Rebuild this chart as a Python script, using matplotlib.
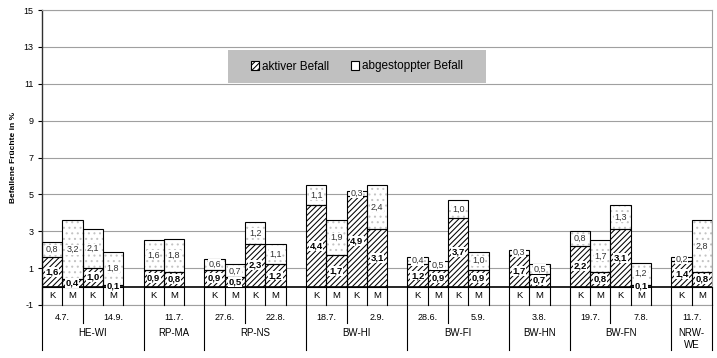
import matplotlib
matplotlib.use("Agg")
import matplotlib.pyplot as plt
from matplotlib.patches import Rectangle, Patch
import matplotlib.transforms as mtransforms

plt.rcParams['font.family'] = ['Liberation Sans', 'DejaVu Sans']
plt.rcParams['hatch.linewidth'] = 0.75

# ---- data ----
locations = ["HE-WI", "RP-MA", "RP-NS", "BW-HI", "BW-FI", "BW-HN", "BW-FN", "NRW-\nWE"]
dates = [["4.7.", "14.9."], ["11.7."], ["27.6.", "22.8."], ["18.7.", "2.9."],
         ["28.6.", "5.9."], ["3.8."], ["19.7.", "7.8."], ["11.7."]]
varieties = ["K", "M"]
aktiv = [1.6, 0.4, 1.0, 0.1, 0.9, 0.8, 0.9, 0.5, 2.3, 1.2, 4.4, 1.7, 4.9, 3.1,
         1.2, 0.9, 3.7, 0.9, 1.7, 0.7, 2.2, 0.8, 3.1, 0.1, 1.4, 0.8]
gestoppt = [0.8, 3.2, 2.1, 1.8, 1.6, 1.8, 0.6, 0.7, 1.2, 1.1, 1.1, 1.9, 0.3, 2.4,
            0.4, 0.5, 1.0, 1.0, 0.3, 0.5, 0.8, 1.7, 1.3, 1.2, 0.2, 2.8]
yticks = [-1, 1, 3, 5, 7, 9, 11, 13, 15]
legend_labels = ["aktiver Befall", "abgestoppter Befall"]
ylabel = "Befallene Früchte in %"

# ---- layout ----
W, H = 717, 358
fig = plt.figure(figsize=(W / 100, H / 100), dpi=100)
ax_l, ax_r, ax_t, ax_b = 42, 712, 10, 305
ax = fig.add_axes([ax_l / W, 1 - ax_b / H, (ax_r - ax_l) / W, (ax_b - ax_t) / H])

# slot positions
bar_x, bar_lab = [], []
date_spans = []   # (start, end, label)
loc_spans = []
slot = 0
for li, (loc, dl) in enumerate(zip(locations, dates)):
    loc_start = slot
    for di, d in enumerate(dl):
        d_start = slot
        for v in varieties:
            bar_x.append(slot)
            bar_lab.append(v)
            slot += 1
        last_loc = li == len(locations) - 1
        if di == len(dl) - 1 and not last_loc:
            slot += 1  # empty gap category
        date_spans.append((d_start, slot, d))
    loc_spans.append((loc_start, slot, loc))
nslots = slot

ax.set_xlim(0, nslots)
ax.set_ylim(-1, 15)
ax.set_yticks(yticks)
ax.set_yticklabels([str(t) for t in yticks], fontsize=6.5)
ax.set_xticks([])
ax.tick_params(axis='y', direction='out', length=3, width=0.8, pad=3)
for t in yticks:
    ax.axhline(t, color='#a0a0a0', lw=0.8, zorder=0)
for s in ['top', 'right', 'bottom']:
    ax.spines[s].set_color('#a0a0a0')
    ax.spines[s].set_linewidth(0.8)
ax.spines['left'].set_color('#303030')
ax.spines['left'].set_linewidth(1.0)

centers = [x + 0.5 for x in bar_x]
# aktiver Befall
ax.bar(centers, aktiv, width=1.0, color='white', edgecolor='black', hatch='//////',
       linewidth=0, zorder=2)
ax.bar(centers, aktiv, width=1.0, fill=False, edgecolor='black', linewidth=0.8, zorder=3)
# abgestoppter Befall
ax.bar(centers, gestoppt, bottom=aktiv, width=1.0, color='white', edgecolor='#c4c4c4',
       hatch='...', linewidth=0, zorder=2)
ax.bar(centers, gestoppt, bottom=aktiv, width=1.0, fill=False, edgecolor='black',
       linewidth=0.8, zorder=3)

def fmt(v):
    return f"{v:.1f}".replace('.', ',')

for c, a, g in zip(centers, aktiv, gestoppt):
    ax.text(c, a / 2, fmt(a), ha='center', va='center', fontsize=6.8, fontweight='bold',
            color='black', zorder=5,
            bbox=dict(boxstyle='square,pad=0.05', fc='white', ec='none'))
    ax.text(c, a + g / 2, fmt(g), ha='center', va='center', fontsize=6.5,
            color='#333333', zorder=5,
            bbox=dict(boxstyle='square,pad=0.05', fc='white', ec='none'))

# category axis at 0
ax.axhline(0, color='black', lw=1.2, zorder=4)
for b in range(nslots + 1):
    ax.plot([b, b], [0, -1], color='black', lw=0.8, zorder=4, clip_on=False)
for c, lab in zip(centers, bar_lab):
    ax.text(c, -0.5, lab, ha='center', va='center', fontsize=6.8)

trans = mtransforms.blended_transform_factory(ax.transData, ax.transAxes)
axh = ax_b - ax_t
def yfrac(px):
    return (ax_b - px) / axh

# date row
for (s, e, d) in date_spans:
    ax.text((s + e) / 2, yfrac(318), d, transform=trans, ha='center', va='center',
            fontsize=6.5)
loc_bounds = set([s for s, e, l in loc_spans] + [nslots])
date_bounds = set(s for s, e, d in date_spans) - loc_bounds
for b in date_bounds:
    ax.plot([b, b], [0, yfrac(323)], transform=trans, color='black', lw=0.8,
            clip_on=False)
for b in loc_bounds:
    ax.plot([b, b], [0, yfrac(350)], transform=trans, color='black', lw=0.8,
            clip_on=False)
for (s, e, l) in loc_spans:
    ax.text((s + e) / 2, yfrac(328.5), l, transform=trans, ha='center', va='top',
            fontsize=7, linespacing=1.25)

# y label
fig.text(14 / W, 1 - 157 / H, ylabel, rotation=90, ha='center', va='center',
         fontsize=6, fontweight='bold')

# legend
lx0, lx1, ly0, ly1 = 228, 486, 50, 83
ax.add_patch(Rectangle(((lx0 - ax_l) / (ax_r - ax_l), yfrac(ly1)),
                       (lx1 - lx0) / (ax_r - ax_l), (ly1 - ly0) / axh,
                       transform=ax.transAxes, facecolor='#c0c0c0', edgecolor='none',
                       zorder=6))
handles = [Patch(facecolor='white', edgecolor='black', hatch='//////', linewidth=0.8),
           Patch(facecolor='white', edgecolor='black', linewidth=0.8)]
leg = ax.legend(handles, legend_labels, loc='center', ncol=2, frameon=False,
                bbox_to_anchor=(((lx0 + lx1) / 2 - ax_l) / (ax_r - ax_l), yfrac((ly0 + ly1) / 2)),
                fontsize=8.5, handlelength=0.7, handleheight=0.7, handletextpad=0.3,
                columnspacing=1.8)
leg.set_zorder(7)

fig.savefig("out.png", dpi=100)
